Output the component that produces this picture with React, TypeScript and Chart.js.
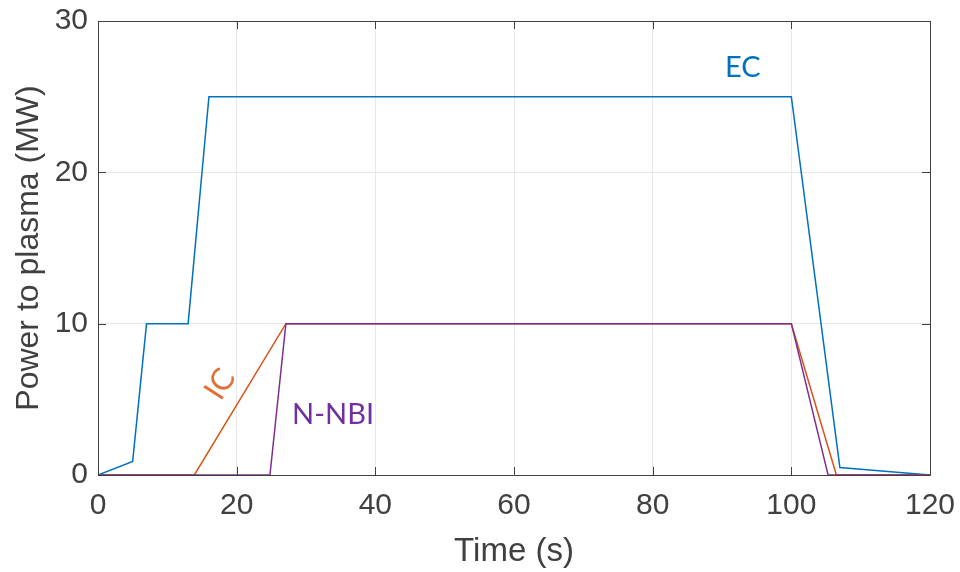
import React, { useEffect, useRef } from "react";
import { Chart, registerables } from "chart.js";

Chart.register(...registerables);

const ecTime = [0, 5, 7, 13, 16, 100, 107, 120];
const ecPower = [0, 0.9, 10, 10, 25, 25, 0.5, 0];
const icTime = [0, 13.9, 27.1, 100, 106.5, 120];
const icPower = [0, 0, 10, 10, 0, 0];
const nbiTime = [0, 24.8, 27.1, 100, 105.3, 120];
const nbiPower = [0, 0, 10, 10, 0, 0];

const xTicks = [0, 20, 40, 60, 80, 100, 120];
const yTicks = [0, 10, 20, 30];

const seriesNames = ["EC", "IC", "N-NBI"];
const xTitle = "Time (s)";
const yTitle = "Power to plasma (MW)";

const C_EC = "#0072BD";
const C_IC = "#D95319";
const C_NBI = "#7E2F8E";
const AXIS = "#404040";
const FONT = "'Liberation Sans', Arial, sans-serif";

const toPts = (xs: number[], ys: number[]) => xs.map((x, i) => ({ x, y: ys[i] }));

const decor = {
  id: "decor",
  afterDatasetsDraw(chart: any) {
    const { ctx, chartArea: a, scales } = chart;
    const xs = scales.x;
    const ys = scales.y;
    ctx.save();
    ctx.strokeStyle = AXIS;
    ctx.lineWidth = 1;
    ctx.beginPath();
    ctx.rect(Math.round(a.left) + 0.5, Math.round(a.top) + 0.5, Math.round(a.right - a.left), Math.round(a.bottom - a.top));
    ctx.stroke();
    const tl = 8;
    ctx.beginPath();
    xTicks.forEach((t) => {
      const px = Math.round(xs.getPixelForValue(t)) + 0.5;
      ctx.moveTo(px, a.bottom);
      ctx.lineTo(px, a.bottom - tl);
      ctx.moveTo(px, a.top);
      ctx.lineTo(px, a.top + tl);
    });
    yTicks.forEach((t) => {
      const py = Math.round(ys.getPixelForValue(t)) + 0.5;
      ctx.moveTo(a.left, py);
      ctx.lineTo(a.left + tl, py);
      ctx.moveTo(a.right, py);
      ctx.lineTo(a.right - tl, py);
    });
    ctx.stroke();

    // series labels
    ctx.textAlign = "center";
    ctx.textBaseline = "middle";
    ctx.font = "29px Lato, 'Noto Sans', sans-serif";
    ctx.fillStyle = C_EC;
    ctx.fillText(seriesNames[0], xs.getPixelForValue(93), ys.getPixelForValue(26.9));
    ctx.fillStyle = "#7030A0";
    ctx.fillText(seriesNames[2], xs.getPixelForValue(33.9), ys.getPixelForValue(4));
    ctx.save();
    ctx.translate(xs.getPixelForValue(17.6), ys.getPixelForValue(6));
    ctx.rotate((-57 * Math.PI) / 180);
    ctx.font = "31px Lato, 'Noto Sans', sans-serif";
    ctx.fillStyle = "#E07038";
    ctx.fillText(seriesNames[1], 0, 0);
    ctx.restore();
    ctx.restore();
  },
};

export default function App() {
  const ref = useRef<HTMLCanvasElement>(null);
  useEffect(() => {
    document.body.style.margin = "0";
    const chart = new Chart(ref.current!, {
      type: "line",
      data: {
        datasets: [
          { label: seriesNames[0], data: toPts(ecTime, ecPower), borderColor: C_EC, borderWidth: 1.5, pointRadius: 0, order: 2 },
          { label: seriesNames[1], data: toPts(icTime, icPower), borderColor: C_IC, borderWidth: 1.5, pointRadius: 0, order: 1 },
          { label: seriesNames[2], data: toPts(nbiTime, nbiPower), borderColor: C_NBI, borderWidth: 1.5, pointRadius: 0, order: 0 },
        ],
      },
      options: {
        animation: false,
        responsive: false,
        layout: { padding: { left: 0, right: 30, top: 21, bottom: 0 } },
        plugins: { legend: { display: false }, tooltip: { enabled: false } },
        scales: {
          x: {
            type: "linear",
            min: 0,
            max: 120,
            afterFit: (s: any) => { s.height = 97; s.paddingLeft = 0; s.paddingRight = 0; },
            afterBuildTicks: (s: any) => { s.ticks = xTicks.map((v) => ({ value: v })); },
            grid: { color: "#e8e8e8", drawTicks: false },
            border: { display: false },
            ticks: { color: AXIS, font: { family: FONT, size: 30 }, padding: 13, maxRotation: 0 },
            title: { display: true, text: xTitle, color: AXIS, font: { family: FONT, size: 33 }, padding: { top: 0, bottom: 0 } },
          },
          y: {
            type: "linear",
            min: 0,
            max: 30,
            afterFit: (s: any) => { s.width = 98; s.paddingTop = 0; s.paddingBottom = 0; },
            afterBuildTicks: (s: any) => { s.ticks = yTicks.map((v) => ({ value: v })); },
            grid: { color: "#e8e8e8", drawTicks: false },
            border: { display: false },
            ticks: { color: AXIS, font: { family: FONT, size: 30 }, padding: 10 },
            title: { display: true, text: yTitle, color: AXIS, font: { family: FONT, size: 32 }, padding: { top: 10, bottom: 0 } },
          },
        },
      },
      plugins: [decor],
    });
    return () => chart.destroy();
  }, []);
  return (
    <div style={{ width: 960, height: 572, background: "#fff" }}>
      <canvas ref={ref} width={960} height={572} />
    </div>
  );
}
